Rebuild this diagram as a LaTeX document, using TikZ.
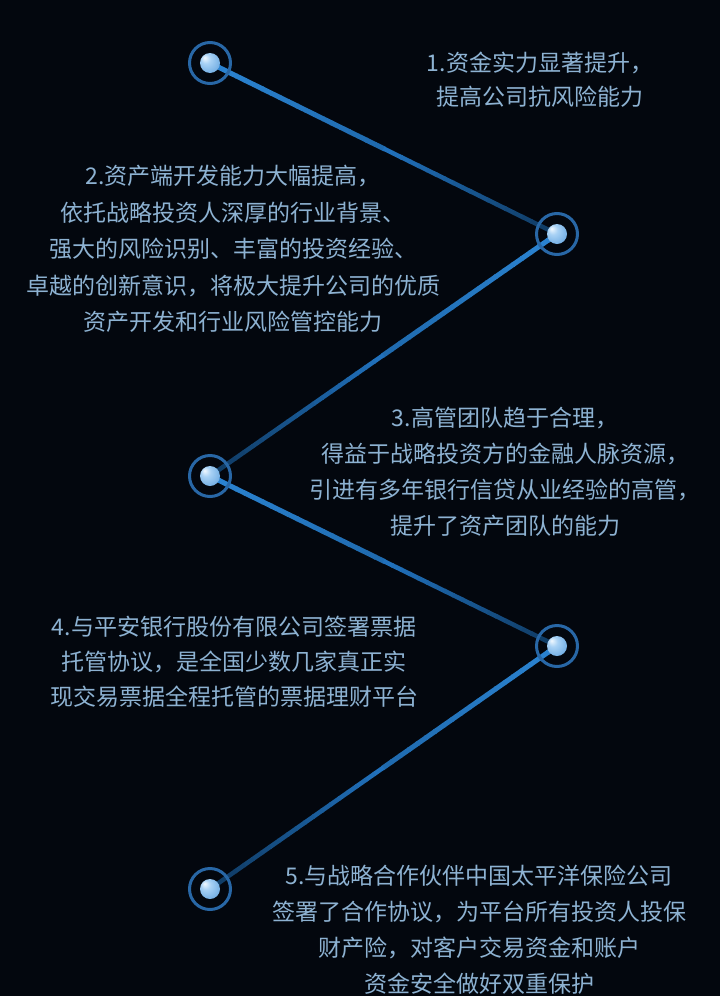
\documentclass[tikz,border=0pt]{standalone}
\usepackage{fontspec}
\newfontfamily\cjk{Noto Sans CJK SC}
\usetikzlibrary{calc}
\definecolor{bgc}{HTML}{03070E}
\definecolor{txt}{HTML}{8DB2D2}
\definecolor{lbright}{HTML}{2B84D2}
\definecolor{lmid}{HTML}{1F6AAE}
\definecolor{lmid2}{HTML}{2171BC}
\definecolor{ldark}{HTML}{0F3A62}
\definecolor{ringc}{HTML}{2867A6}
\definecolor{dotin}{HTML}{F2F9FF}
\definecolor{dotmid}{HTML}{A9D2F5}
\definecolor{dotout}{HTML}{5C9FDC}
\pgfdeclareradialshading{dotshade}{\pgfpoint{-14bp}{14bp}}{%
  color(0bp)=(dotin); color(12bp)=(dotmid); color(40bp)=(dotout); color(50bp)=(dotout)}
\newcommand\gradline[7]{%
  \foreach \k in {0,...,19}{%
    \pgfmathsetmacro\ta{#3+(#4-#3)*\k/20}%
    \pgfmathsetmacro\tb{#3+(#4-#3)*(\k+1)/20+0.003}%
    \pgfmathtruncatemacro\pc{100-100*\k/19}%
    \draw[line width=#7, color=#5!\pc!#6] ($(#1)!\ta!(#2)$) -- ($(#1)!\tb!(#2)$);
  }}
\tikzset{
  ringnode/.style={circle, draw=ringc, line width=3pt, minimum size=41pt, inner sep=0pt},
  dotnode/.style={circle, shading=dotshade, minimum size=20pt, inner sep=0pt},
  txtnode/.style={text=txt, align=center, inner sep=0pt}
}
\begin{document}
\begin{tikzpicture}[x=1pt,y=-1pt]
\fill[bgc] (0,0) rectangle (720,996);
\useasboundingbox (0,0) rectangle (720,996);
\coordinate (n1) at (210,63);
\coordinate (n2) at (557,234);
\coordinate (n3) at (210,476);
\coordinate (n4) at (557,646);
\coordinate (n5) at (210,889);
% connectors
\gradline{n1}{n2}{0}{0.5}{lbright}{lmid}{5pt}
\gradline{n1}{n2}{0.5}{1}{lmid2}{ldark}{4.5pt}
\gradline{n2}{n3}{0}{0.5}{lbright}{lmid}{5pt}
\gradline{n2}{n3}{0.5}{1}{lmid2}{ldark}{4.5pt}
\gradline{n3}{n4}{0}{0.5}{lbright}{lmid}{5pt}
\gradline{n3}{n4}{0.5}{1}{lmid2}{ldark}{4.5pt}
\gradline{n4}{n5}{0}{0.5}{lbright}{lmid}{5pt}
\gradline{n4}{n5}{0.5}{1}{lmid2}{ldark}{4.5pt}
% markers
\foreach \n in {n1,n2,n3,n4,n5}{
  \node[ringnode] (r\n) at (\n) {};
  \node[dotnode] (d\n) at (\n) {};
}
% texts
\node[txtnode, font=\cjk\fontsize{23}{34}\selectfont] (t1) at (540,80) {1.资金实力显著提升，\\提高公司抗风险能力};
\node[txtnode, font=\cjk\fontsize{23}{36.5}\selectfont] (t2) at (233,249) {2.资产端开发能力大幅提高，\\依托战略投资人深厚的行业背景、\\强大的风险识别、丰富的投资经验、\\卓越的创新意识，将极大提升公司的优质\\资产开发和行业风险管控能力};
\node[txtnode, font=\cjk\fontsize{23}{36}\selectfont] (t3) at (505,472) {3.高管团队趋于合理，\\得益于战略投资方的金融人脉资源，\\引进有多年银行信贷从业经验的高管，\\提升了资产团队的能力};
\node[txtnode, font=\cjk\fontsize{23}{35}\selectfont] (t4) at (234,662) {4.与平安银行股份有限公司签署票据\\托管协议，是全国少数几家真正实\\现交易票据全程托管的票据理财平台};
\node[txtnode, font=\cjk\fontsize{23}{36}\selectfont] (t5) at (479,930) {5.与战略合作伙伴中国太平洋保险公司\\签署了合作协议，为平台所有投资人投保\\财产险，对客户交易资金和账户\\资金安全做好双重保护};
\end{tikzpicture}
\end{document}
